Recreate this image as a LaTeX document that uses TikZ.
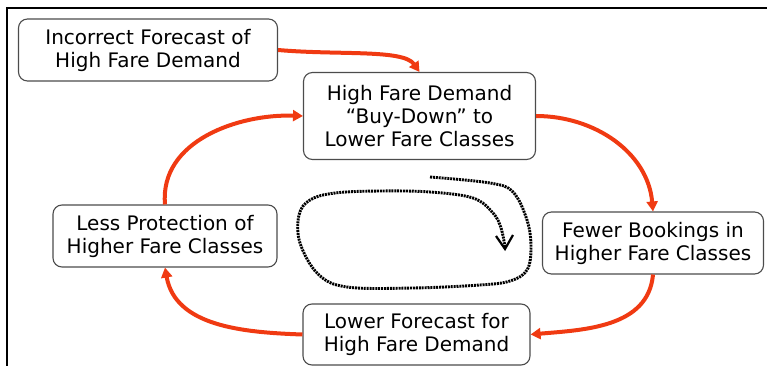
\documentclass[tikz,border=0pt]{standalone}
\usepackage{fontspec}
\setmainfont{DejaVu Sans}
\usetikzlibrary{arrows.meta}
\definecolor{loopred}{RGB}{240,58,18}
\begin{document}
\begin{tikzpicture}[x=1pt,y=-1pt,
  box/.style={draw=black!70, line width=1.1pt, rounded corners=9pt, fill=white,
    align=center, inner sep=0pt, font=\fontsize{20}{23}\selectfont},
  flow/.style={draw=loopred, line width=4pt,
    -{Triangle[length=10pt,width=11pt]}},
  frameline/.style={line width=2pt, black},
  looppath/.style={line width=2.9pt, dash pattern=on 2pt off 0.9pt}]
\useasboundingbox (0,0) rectangle (767,366);

% partial frame: top and left edges
\coordinate (ftl) at (7,8);
\coordinate (ftr) at (767,8);
\coordinate (fbl) at (7,366);
\draw[frameline] (ftr) -- (ftl) -- (fbl);

% boxes
\node[box, minimum width=259pt, minimum height=62pt] (b1) at (148,50)
  {Incorrect Forecast of\\High Fare Demand};
\node[box, minimum width=232pt, minimum height=87pt] (b2) at (419.5,116)
  {High Fare Demand\\“Buy-Down” to\\Lower Fare Classes};
\node[box, minimum width=221pt, minimum height=62pt] (b3) at (653,243)
  {Fewer Bookings in\\Higher Fare Classes};
\node[box, minimum width=227pt, minimum height=61pt] (b4) at (416.5,334.5)
  {Lower Forecast for\\High Fare Demand};
\node[box, minimum width=224pt, minimum height=62pt] (b5) at (165,236)
  {Less Protection of\\Higher Fare Classes};

% reinforcing loop arrows
\draw[flow] (b1.east) to[out=-5,in=125,out looseness=1.1,in looseness=0.5] (b2.north);
\draw[flow] (b2.east) to[out=0,in=95] (b3.north);
\draw[flow] (b3.south) to[out=-95,in=5] (b4.east);
\draw[flow] (b4.west) to[out=178,in=-80] (b5.south);
\draw[flow] (b5.north) to[out=95,in=178] (b2.west);

% dotted loop symbol in the middle
\draw[looppath]
  plot[smooth, tension=0.6] coordinates {
    (430,177) (490,183) (513,192) (527,220) (531,247) (527,270)
    (510,281) (480,285) (413,288) (347,287) (318,274) (300,243)
    (299,215) (310,200) (335,193) (380,191) (430,192) (473,198)
    (493,213) (501,228) (505,247)};
% open arrowhead at the end of the loop
\coordinate (tip) at (505,249);
\coordinate (tipl) at (496,236);
\coordinate (tipr) at (513,235);
\draw[line width=2.2pt, line join=miter] (tipl) -- (tip) -- (tipr);
\end{tikzpicture}
\end{document}
